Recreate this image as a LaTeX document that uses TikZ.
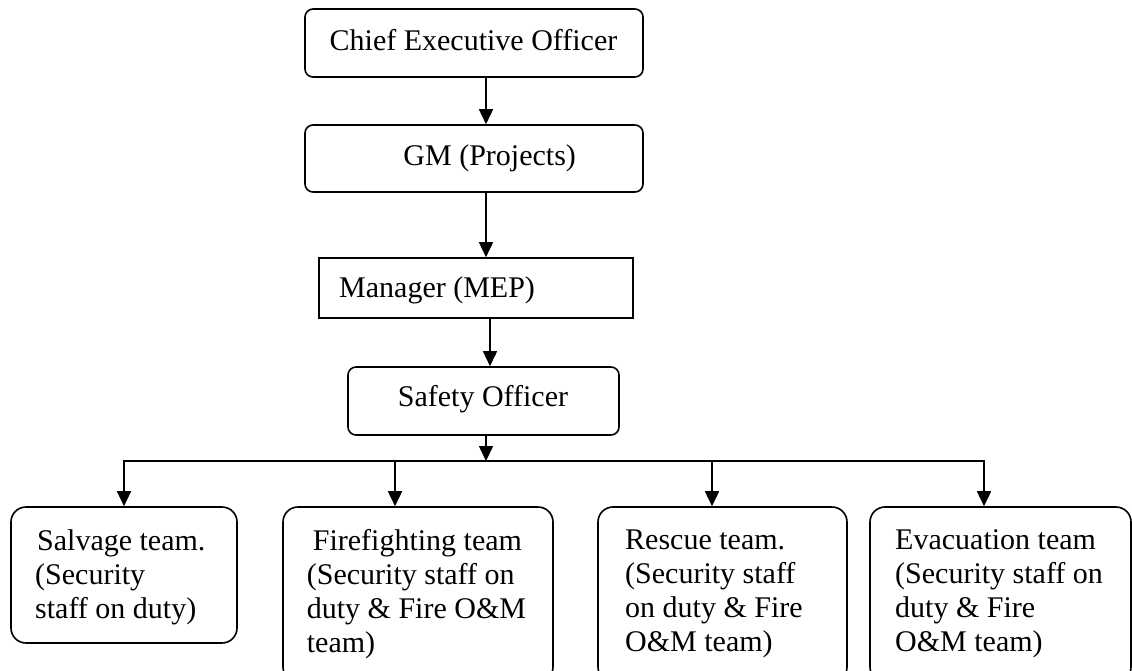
\documentclass[tikz,border=0pt]{standalone}
\usepackage{fontspec}
\setmainfont{Liberation Serif}
\usetikzlibrary{arrows.meta}
\begin{document}
\begin{tikzpicture}[x=1pt,y=-1pt,
  rbox/.style={draw, line width=1.6pt, rounded corners=8pt, inner sep=0pt},
  tbox/.style={draw, line width=1.6pt, rounded corners=15pt, inner sep=0pt},
  sbox/.style={draw, line width=1.6pt, inner sep=0pt},
  arr/.style={line width=1.6pt, -{Triangle[length=15pt,width=14pt]}},
  conn/.style={line width=1.6pt},
  txt/.style={inner sep=0pt, font=\fontsize{30}{34}\selectfont, align=left}
]
\useasboundingbox (0,0) rectangle (1132,670);
\clip (0,0) rectangle (1132,670);

% boxes
\node[rbox, minimum width=338pt, minimum height=68pt] (ceo) at (474,43) {};
\node[rbox, minimum width=338pt, minimum height=67pt] (gm) at (474,158.5) {};
\node[sbox, minimum width=314pt, minimum height=60pt] (mgr) at (476,288) {};
\node[rbox, minimum width=271pt, minimum height=68pt] (saf) at (483.5,401) {};
\node[tbox, minimum width=226pt, minimum height=136pt] (salv) at (124,575) {};
\node[tbox, minimum width=270pt, minimum height=175pt] (fire) at (418,594.5) {};
\node[tbox, minimum width=249pt, minimum height=175pt] (resc) at (722.5,594.5) {};
\node[tbox, minimum width=261pt, minimum height=175pt] (evac) at (1000.5,594.5) {};

% texts
\node[txt, anchor=base] (tceo) at (473.5,50.7) {Chief Executive Officer};
\node[txt, anchor=base] (tgm) at (489.7,165.7) {GM (Projects)};
\node[txt, anchor=base west] (tmgr) at (339,297) {Manager (MEP)};
\node[txt, anchor=base] (tsaf) at (483,406.7) {Safety Officer};
\node[txt, anchor=north west] (tsalv) at (35,529.5) {\hspace*{2pt}Salvage team.\\(Security\\staff on duty)};
\node[txt, anchor=north west] (tfire) at (306.7,529.5) {\hspace*{6pt}Firefighting team\\(Security staff on\\duty \& Fire O\&M\\team)};
\node[txt, anchor=north west] (tresc) at (625,529.5) {Rescue team.\\(Security staff\\on duty \& Fire\\O\&M team)};
\node[txt, anchor=north west] (tevac) at (895,529.5) {Evacuation team\\(Security staff on\\duty \& Fire\\O\&M team)};

% connector coordinates
\coordinate (a1) at (486,0);
\coordinate (a2) at (490,0);
\coordinate (br) at (486,461);
\coordinate (bl) at (124,461);
\coordinate (f1) at (395,461);
\coordinate (r1) at (712,461);
\coordinate (e1) at (984,461);

% connectors
\draw[arr] (ceo.south -| a1) -- (gm.north -| a1);
\draw[arr] (gm.south -| a1) -- (mgr.north -| a1);
\draw[arr] (mgr.south -| a2) -- (saf.north -| a2);
\draw[arr] (saf.south -| br) -- (br);
\draw[arr] (e1) -- (bl) -- (salv.north -| bl);
\draw[arr] (bl) -- (e1) -- (evac.north -| e1);
\draw[arr] (f1) -- (fire.north -| f1);
\draw[arr] (r1) -- (resc.north -| r1);
\end{tikzpicture}
\end{document}
